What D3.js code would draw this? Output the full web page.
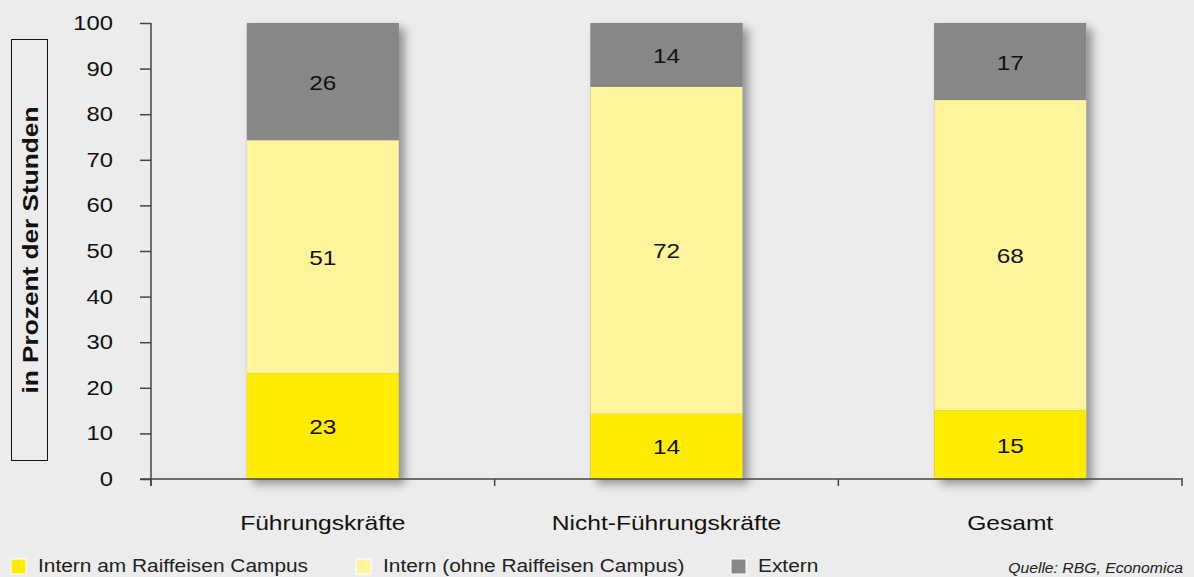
<!DOCTYPE html>
<html><head><meta charset="utf-8">
<script src="https://cdn.jsdelivr.net/npm/d3@7"></script>
<style>
html,body{margin:0;padding:0;background:#ebeceb;}
svg{display:block;font-family:"Liberation Sans",Arial,Helvetica,sans-serif;}
</style></head>
<body>
<svg id="chart" width="1194" height="577"></svg>
<script>
const categories = ["Führungskräfte", "Nicht-Führungskräfte", "Gesamt"];
const seriesNames = ["Intern am Raiffeisen Campus", "Intern (ohne Raiffeisen Campus)", "Extern"];
const internCampus = [23.2, 14.3, 15.1];
const internOhne = [51.1, 71.7, 68.0];
const extern = [25.7, 14.0, 16.9];
const labelsCampus = ["23", "14", "15"];
const labelsOhne = ["51", "72", "68"];
const labelsExtern = ["26", "14", "17"];
const yTicks = [0, 10, 20, 30, 40, 50, 60, 70, 80, 90, 100];
const colors = ["#ffec00", "#fff49b", "#878787"];

const svg = d3.select("#chart");
const W = 1194, H = 577;
svg.append("rect").attr("width", W).attr("height", H).attr("fill", "#ebeceb");

const defs = svg.append("defs");
const f = defs.append("filter").attr("id", "shadow").attr("x", "-20%").attr("y", "-20%").attr("width", "150%").attr("height", "150%");
f.append("feDropShadow").attr("dx", 6).attr("dy", 5).attr("stdDeviation", 5).attr("flood-color", "#000").attr("flood-opacity", 0.38);

// text helper: horizontally stretched text like the reference
function label(parent, x, y, txt, opts) {
  const o = Object.assign({size: 19, sx: 1.2, anchor: "start", weight: "normal", style: "normal", fill: "#111", rotate: 0, baseline: "auto"}, opts || {});
  const g = parent.append("g").attr("transform", `translate(${x},${y}) rotate(${o.rotate}) scale(${o.sx},1)`);
  g.append("text").attr("text-anchor", o.anchor).attr("dominant-baseline", o.baseline)
    .attr("font-size", o.size).attr("font-weight", o.weight).attr("font-style", o.style)
    .attr("fill", o.fill).text(txt);
  return g;
}

const x0 = 151, x1 = 1182, yTop = 23, yBot = 479;
const x = d3.scaleBand().domain(categories).range([x0, x1]).paddingInner(0.558).paddingOuter(0.279);
const y = d3.scaleLinear().domain([0, 100]).range([yBot, yTop]);

const data = categories.map((c, i) => ({cat: c, s: [internCampus[i], internOhne[i], extern[i]], l: [labelsCampus[i], labelsOhne[i], labelsExtern[i]]}));

// bars
const g = svg.append("g");
data.forEach(d => {
  let acc = 0;
  const bg = g.append("g");
  const total = d.s.reduce((a, b) => a + b, 0);
  bg.append("rect").attr("x", x(d.cat)).attr("width", x.bandwidth())
    .attr("y", y(total)).attr("height", y(0) - y(total)).attr("fill", "#878787").attr("filter", "url(#shadow)");
  d.s.forEach((v, k) => {
    bg.append("rect").attr("x", x(d.cat)).attr("width", x.bandwidth())
      .attr("y", y(acc + v)).attr("height", y(acc) - y(acc + v)).attr("fill", colors[k]);
    label(bg, x(d.cat) + x.bandwidth() / 2, (y(acc) + y(acc + v)) / 2 + 8, d.l[k], {size: 21, sx: 1.16, anchor: "middle"});
    acc += v;
  });
});

// y axis
const ya = svg.append("g").attr("transform", `translate(${x0},0)`)
  .call(d3.axisLeft(y).tickValues(yTicks).tickSize(11).tickFormat("").tickSizeOuter(0));
ya.select(".domain").attr("stroke", "#444").attr("stroke-width", 1.5).attr("d", `M0,${yTop}V${yBot + 7}`);
ya.selectAll(".tick line").attr("stroke", "#444").attr("stroke-width", 1.5);
yTicks.forEach(t => label(svg, 113, y(t) + 7, String(t), {size: 19.5, sx: 1.22, anchor: "end"}));

// x axis
const xa = svg.append("g").attr("transform", `translate(0,${yBot})`);
xa.append("line").attr("x1", 140).attr("x2", x1 + 1).attr("stroke", "#444").attr("stroke-width", 1.5);
const boundaries = [x0, x0 + x.step(), x0 + 2 * x.step(), x1];
boundaries.forEach(b => xa.append("line").attr("x1", b).attr("x2", b).attr("y1", 0).attr("y2", 7).attr("stroke", "#444").attr("stroke-width", 1.5));
categories.forEach(c => label(svg, x(c) + x.bandwidth() / 2, 530, c, {size: 20.5, sx: 1.2, anchor: "middle"}));

// y title with box
svg.append("rect").attr("x", 11.5).attr("y", 39.5).attr("width", 36).attr("height", 421)
  .attr("fill", "none").attr("stroke", "#111").attr("stroke-width", 1);
label(svg, 38, 250, "in Prozent der Stunden", {size: 21.5, sx: 1.22, anchor: "middle", weight: "bold", rotate: -90});

// legend
const legX = [11, 356, 731];
seriesNames.forEach((n, i) => {
  svg.append("rect").attr("x", legX[i]).attr("y", 559).attr("width", 15).attr("height", 15)
    .attr("fill", colors[i]).attr("stroke", "#fff").attr("stroke-width", 1);
  label(svg, legX[i] + 27, 572, n, {size: 18.5, sx: 1.13, fill: "#222"});
});

// source
label(svg, 1183, 573, "Quelle: RBG, Economica", {size: 15, sx: 1.05, anchor: "end", style: "italic", fill: "#222"});
</script>
</body></html>
